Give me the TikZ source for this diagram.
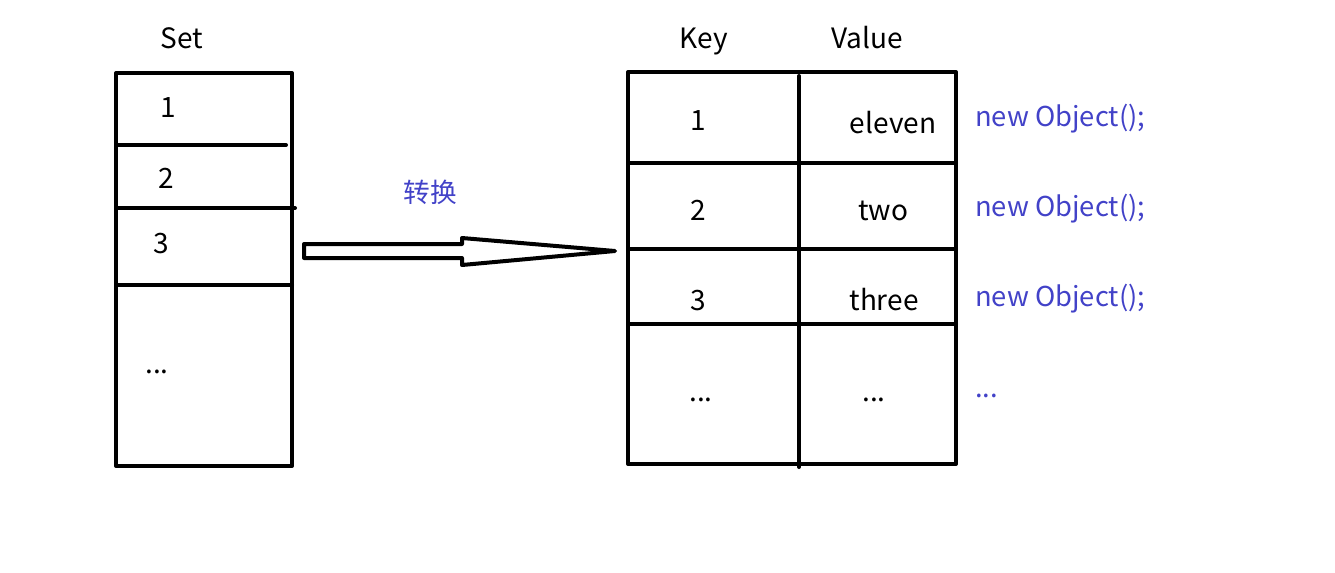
\documentclass[tikz,border=0pt]{standalone}
\usepackage{fontspec}
\setmainfont{Noto Sans CJK SC}
\definecolor{ink}{RGB}{66,66,200}
\begin{document}
\begin{tikzpicture}[x=0.75pt,y=-0.75pt,
  frame/.style={line width=3pt,line cap=round,line join=round},
  lbl/.style={font=\fontsize{21}{24}\selectfont,inner sep=0pt,anchor=base},
  note/.style={font=\fontsize{20.5}{24}\selectfont,inner sep=0pt,text=ink,anchor=base west}]
\useasboundingbox (0,0) rectangle (1335,572);
% left Set box
\draw[frame] (116,73) rectangle (292,466);
\draw[frame] (116,145) -- (286,145);
\draw[frame] (118,208) -- (295,208);
\draw[frame] (116,285) -- (292,285);
\node[lbl] (set) at (182,48) {Set};
\node[lbl] (s1) at (168,117) {1};
\node[lbl] (s2) at (166,188) {2};
\node[lbl] (s3) at (161,253) {3};
\node[lbl] (sd) at (157,373) {...};
% arrow
\node[font=\fontsize{20}{24}\selectfont,inner sep=0pt,text=ink] (conv) at (430,192) {转换};
\coordinate (atail) at (304,251);
\coordinate (atip) at (615,251);
\draw[frame] (304,244) -- (462,244) -- (462,238) -- (atip) -- (462,265) -- (462,258) -- (304,258) -- cycle;
% right table
\draw[frame] (628,72) rectangle (956,464);
\draw[frame] (799,76) -- (799,467);
\draw[frame] (628,163) -- (956,163);
\draw[frame] (628,249) -- (956,249);
\draw[frame] (628,324) -- (956,324);
\node[lbl] (key) at (704,48) {Key};
\node[lbl] (val) at (867,48) {Value};
\node[lbl] (k1) at (698,130) {1};
\node[lbl] (v1) at (893,133) {eleven};
\node[lbl] (k2) at (698,220) {2};
\node[lbl] (v2) at (883,220) {two};
\node[lbl] (k3) at (698,310) {3};
\node[lbl] (v3) at (884,310) {three};
\node[lbl] (kd) at (701,401) {...};
\node[lbl] (vd) at (874,401) {...};
% notes
\node[note] (n1) at (975,126) {new Object();};
\node[note] (n2) at (975,216) {new Object();};
\node[note] (n3) at (975,306) {new Object();};
\node[note] (nd) at (975,397) {...};
\end{tikzpicture}
\end{document}
